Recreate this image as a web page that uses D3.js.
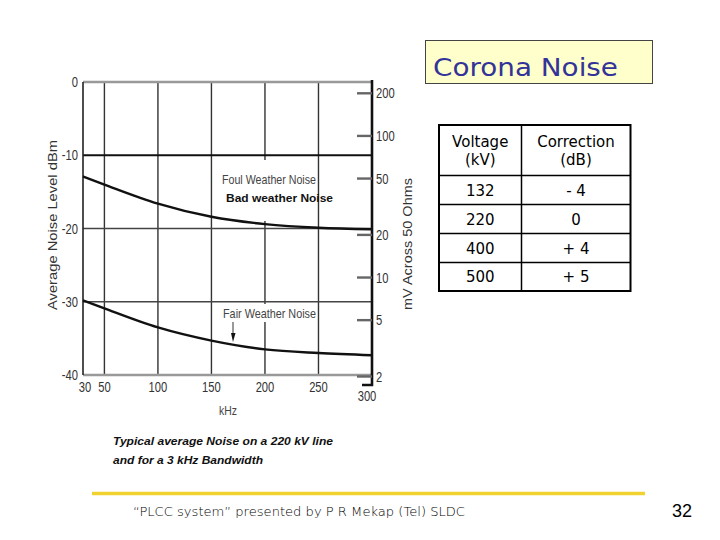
<!DOCTYPE html>
<html>
<head>
<meta charset="utf-8">
<script src="https://cdn.jsdelivr.net/npm/d3@7"></script>
<style>
  body { margin: 0; background: #fff; }
  svg { display: block; }
  .narrow { font-family: "Liberation Sans", Arial, sans-serif; }
</style>
</head>
<body>
<svg id="canvas"></svg>
<script>
// chart values
const freqKhz = [30, 50, 100, 150, 200, 250, 300];
const foulDbm = [-12.9, -14.0, -16.6, -18.4, -19.4, -19.9, -20.1];
const fairDbm = [-29.8, -30.9, -33.5, -35.3, -36.5, -37.0, -37.3];

const xTicks = [30, 50, 100, 150, 200, 250, 300];
const xGrid = [50, 100, 150, 200, 250];
const yTicks = [0, -10, -20, -30, -40];
const yGrid = [-10, -20, -30];
const mvTicks = [200, 100, 50, 20, 10, 5, 2];

// corona correction table
const tableHead = [["Voltage", "(kV)"], ["Correction", "(dB)"]];
const voltages = ["132", "220", "400", "500"];
const corrections = ["- 4", "0", "+ 4", "+ 5"];

const width = 720, height = 540;
const NARROW = 0.8; // no Arial Narrow here, squeeze Liberation Sans instead

const svg = d3.select('svg#canvas')
    .attr('width', width)
    .attr('height', height);

svg.append('rect').attr('width', width).attr('height', height).attr('fill', '#fff');

const x = d3.scaleLinear().domain([30, 300]).range([83, 372]);
const y = d3.scaleLinear().domain([-40, 0]).range([375, 82]);
const yMv = d3.scaleLog().domain([2, 200]).range([376.5, 93.3]);

const chart = svg.append('g');

// grid
chart.selectAll('line.vgrid').data(xGrid).enter().append('line')
    .attr('x1', d => x(d)).attr('x2', d => x(d))
    .attr('y1', y(0)).attr('y2', y(-40))
    .attr('stroke', '#333').attr('stroke-width', 1.4);

chart.selectAll('line.hgrid').data(yGrid).enter().append('line')
    .attr('x1', x(30)).attr('x2', x(300))
    .attr('y1', d => y(d)).attr('y2', d => y(d))
    .attr('stroke', d => d == -10 ? '#111' : '#444')
    .attr('stroke-width', d => d == -10 ? 2.2 : 1.6);

// top and bottom border (grey in scan)
chart.selectAll('line.hborder').data([0, -40]).enter().append('line')
    .attr('x1', x(30)).attr('x2', x(300))
    .attr('y1', d => y(d)).attr('y2', d => y(d))
    .attr('stroke', '#999').attr('stroke-width', 2.6);

// left border
chart.append('line')
    .attr('x1', x(30)).attr('x2', x(30))
    .attr('y1', y(0)).attr('y2', y(-40))
    .attr('stroke', '#222').attr('stroke-width', 1.6);

// white label panels (pasted text boxes in the slide)
chart.append('rect').attr('x', 219).attr('y', 160).attr('width', 97).attr('height', 61).attr('fill', '#fff');
chart.append('rect').attr('x', 219).attr('y', 304).attr('width', 97).attr('height', 18).attr('fill', '#fff');

// right mV axis
chart.append('path')
    .attr('d', `M${x(300)},${y(0) - 2}V${y(-40) + 10}H${x(300) - 10}`)
    .attr('fill', 'none').attr('stroke', '#111').attr('stroke-width', 2.6);

chart.selectAll('line.mvtick').data(mvTicks).enter().append('line')
    .attr('x1', x(300) - 15).attr('x2', x(300))
    .attr('y1', d => yMv(d)).attr('y2', d => yMv(d))
    .attr('stroke', '#666').attr('stroke-width', 2.4);

chart.selectAll('text.mv').data(mvTicks).enter().append('text')
    .attr('class', 'narrow')
    .attr('transform', d => `translate(${x(300) + 4},${yMv(d) + 5}) scale(${NARROW},1)`)
    .attr('font-size', 14).attr('fill', '#333')
    .text(d => d);

// curves
const line = d3.line()
    .x(d => x(d[0]))
    .y(d => y(d[1]))
    .curve(d3.curveMonotoneX);

chart.append('path')
    .datum(d3.zip(freqKhz, foulDbm))
    .attr('d', line)
    .attr('fill', 'none').attr('stroke', '#111').attr('stroke-width', 2.4);

chart.append('path')
    .datum(d3.zip(freqKhz, fairDbm))
    .attr('d', line)
    .attr('fill', 'none').attr('stroke', '#111').attr('stroke-width', 2.4);

// y tick labels
chart.selectAll('text.ytick').data(yTicks).enter().append('text')
    .attr('class', 'narrow')
    .attr('transform', d => `translate(${x(30) - 5},${y(d) + 5}) scale(${NARROW},1)`)
    .attr('text-anchor', 'end')
    .attr('font-size', 14).attr('fill', '#333')
    .text(d => d);

// x tick labels
chart.selectAll('text.xtick').data(xTicks).enter().append('text')
    .attr('class', 'narrow')
    .attr('transform', d => {
        const tx = d == 30 ? x(d) + 2 : (d == 300 ? x(d) - 5 : x(d));
        const ty = d == 300 ? 401 : 392;
        return `translate(${tx},${ty}) scale(${NARROW},1)`;
    })
    .attr('text-anchor', 'middle')
    .attr('font-size', 14).attr('fill', '#333')
    .text(d => d);

chart.append('text').attr('class', 'narrow')
    .attr('transform', `translate(228,415) scale(${NARROW},1)`)
    .attr('text-anchor', 'middle')
    .attr('font-size', 13).attr('fill', '#444').text('kHz');

chart.append('text').attr('class', 'narrow')
    .attr('transform', 'translate(57,225) rotate(-90)')
    .attr('text-anchor', 'middle')
    .attr('font-size', 13).attr('fill', '#333')
    .attr('textLength', 170).attr('lengthAdjust', 'spacingAndGlyphs')
    .text('Average Noise Level dBm');

chart.append('text').attr('class', 'narrow')
    .attr('transform', 'translate(412,244) rotate(-90)')
    .attr('text-anchor', 'middle')
    .attr('font-size', 12).attr('fill', '#333')
    .attr('textLength', 132).attr('lengthAdjust', 'spacingAndGlyphs')
    .text('mV Across 50 Ohms');

// curve labels
chart.append('text').attr('class', 'narrow')
    .attr('x', 222).attr('y', 184)
    .attr('font-size', 13).attr('fill', '#444')
    .attr('textLength', 94).attr('lengthAdjust', 'spacingAndGlyphs')
    .text('Foul Weather Noise');

chart.append('text')
    .attr('x', 226).attr('y', 202)
    .attr('font-family', '"Liberation Sans", Arial, sans-serif')
    .attr('font-weight', 'bold')
    .attr('font-size', 11.5).attr('fill', '#111')
    .attr('textLength', 107).attr('lengthAdjust', 'spacingAndGlyphs')
    .text('Bad weather Noise');

chart.append('text').attr('class', 'narrow')
    .attr('x', 223).attr('y', 318)
    .attr('font-size', 13).attr('fill', '#444')
    .attr('textLength', 93).attr('lengthAdjust', 'spacingAndGlyphs')
    .text('Fair Weather Noise');

// arrow to fair weather curve
chart.append('line')
    .attr('x1', 233).attr('x2', 233).attr('y1', 322).attr('y2', 334)
    .attr('stroke', '#777').attr('stroke-width', 1.5);
chart.append('path')
    .attr('d', 'M231,333L235.5,333L233,342Z')
    .attr('fill', '#111');

// caption
const cap = svg.append('g')
    .attr('font-family', '"Liberation Sans", Arial, sans-serif')
    .attr('font-weight', 'bold').attr('font-style', 'italic')
    .attr('font-size', 11).attr('fill', '#111');
cap.append('text').attr('x', 113).attr('y', 445)
    .attr('textLength', 220).attr('lengthAdjust', 'spacingAndGlyphs')
    .text('Typical average Noise on a 220 kV line');
cap.append('text').attr('x', 113).attr('y', 464)
    .attr('textLength', 150).attr('lengthAdjust', 'spacingAndGlyphs')
    .text('and for a 3 kHz Bandwidth');

// title box
svg.append('rect')
    .attr('x', 425.5).attr('y', 40.5).attr('width', 227).attr('height', 43)
    .attr('fill', '#ffffcc').attr('stroke', '#444').attr('stroke-width', 1);
svg.append('text')
    .attr('x', 433).attr('y', 76)
    .attr('font-family', '"DejaVu Sans", Verdana, sans-serif')
    .attr('font-size', 25).attr('fill', '#333399')
    .attr('textLength', 185).attr('lengthAdjust', 'spacingAndGlyphs')
    .text('Corona Noise');

// table
const tx0 = 439, tx1 = 521.5, tx2 = 630.5;
const rowLines = [125, 175.5, 204.5, 233.5, 262.5, 291];
const table = svg.append('g');
const colCenters = [(tx0 + tx1) / 2, (tx1 + tx2) / 2];

table.selectAll('line.row').data(rowLines.slice(1, -1)).enter().append('line')
    .attr('x1', tx0).attr('x2', tx2)
    .attr('y1', d => d).attr('y2', d => d)
    .attr('stroke', '#000').attr('stroke-width', 1.5);
table.append('line')
    .attr('x1', tx1).attr('x2', tx1).attr('y1', rowLines[0]).attr('y2', rowLines[5])
    .attr('stroke', '#000').attr('stroke-width', 1.5);
table.append('rect')
    .attr('x', tx0).attr('y', rowLines[0]).attr('width', tx2 - tx0).attr('height', rowLines[5] - rowLines[0])
    .attr('fill', 'none').attr('stroke', '#000').attr('stroke-width', 2);

const tFont = '"DejaVu Sans", Verdana, sans-serif';
tableHead.forEach((h, i) => {
    h.forEach((t, j) => {
        table.append('text')
            .attr('x', colCenters[i]).attr('y', 146.5 + j * 18)
            .attr('text-anchor', 'middle')
            .attr('font-family', tFont).attr('font-size', 15).attr('fill', '#000')
            .text(t);
    });
});
voltages.forEach((v, i) => {
    const base = (rowLines[i + 1] + rowLines[i + 2]) / 2 + 5.5;
    table.append('text')
        .attr('x', colCenters[0]).attr('y', base)
        .attr('text-anchor', 'middle')
        .attr('font-family', tFont).attr('font-size', 15).attr('fill', '#000')
        .text(v);
    table.append('text')
        .attr('x', colCenters[1]).attr('y', base)
        .attr('text-anchor', 'middle')
        .attr('font-family', tFont).attr('font-size', 15).attr('fill', '#000')
        .text(corrections[i]);
});

// footer
svg.append('line')
    .attr('x1', 92).attr('x2', 645).attr('y1', 493.5).attr('y2', 493.5)
    .attr('stroke', '#f2d230').attr('stroke-width', 3.5);
svg.append('text')
    .attr('x', 133).attr('y', 516)
    .attr('font-family', '"DejaVu Sans", sans-serif').attr('font-weight', 200)
    .attr('font-size', 13).attr('fill', '#000')
    .attr('textLength', 332).attr('lengthAdjust', 'spacingAndGlyphs')
    .text('\u201cPLCC system\u201d presented by P R Mekap (Tel) SLDC');
svg.append('text')
    .attr('x', 692).attr('y', 517).attr('text-anchor', 'end')
    .attr('font-family', '"Liberation Sans", Arial, sans-serif')
    .attr('font-size', 18).attr('fill', '#000')
    .text('32');
</script>
</body>
</html>
